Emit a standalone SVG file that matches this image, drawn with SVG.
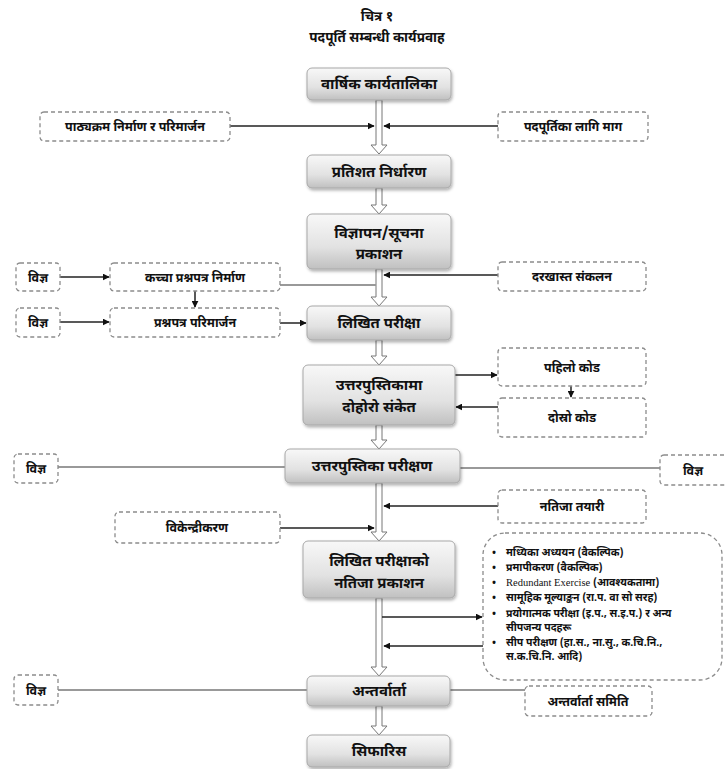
<svg xmlns="http://www.w3.org/2000/svg" width="726" height="769" viewBox="0 0 726 769">
<defs>
<linearGradient id="g" x1="0" y1="0" x2="0" y2="1">
<stop offset="0" stop-color="#f8f8f8"/>
<stop offset="0.6" stop-color="#e2e2e2"/>
<stop offset="1" stop-color="#c0c0c0"/>
</linearGradient>
<filter id="sh" x="-10%" y="-20%" width="125%" height="150%">
<feDropShadow dx="1" dy="2" stdDeviation="1.5" flood-color="#000" flood-opacity="0.3"/>
</filter>
<marker id="ah" viewBox="0 0 10 10" refX="9" refY="5" markerWidth="7" markerHeight="7" markerUnits="userSpaceOnUse" orient="auto">
<path d="M0,0 L10,5 L0,10 z" fill="#111"/>
</marker>
<style>
text{font-family:"Noto Sans Devanagari","Lohit Devanagari","Noto Sans","DejaVu Sans",sans-serif;font-weight:bold;fill:#111;text-anchor:middle}
.main rect{fill:url(#g);stroke:#a8a8a8;stroke-width:1;filter:url(#sh)}
.main text{font-size:15px}
.dash rect{fill:#fff;stroke:#8c8c8c;stroke-width:1.3;stroke-dasharray:4 3}
.dash text{font-size:12.5px}
.hollow{fill:#fff;stroke:#777;stroke-width:1}
.arr{stroke:#222;stroke-width:1.5;fill:none;marker-end:url(#ah)}
.ln{stroke:#999;stroke-width:2;fill:none}
.list text{font-size:10.5px;text-anchor:start;font-weight:bold}
.title{font-size:13.5px}
</style>
</defs>

<g id="title">
<text class="title" x="377" y="21">चित्र १</text>
<text class="title" x="377" y="42">पदपूर्ति सम्बन्धी कार्यप्रवाह</text>
</g>

<g id="connectors">
<path class="hollow" d="M376,100 V145 H371 L379,154 L387,145 H382 V100 Z"/>
<path class="hollow" d="M376,188 V205 H371 L379,214 L387,205 H382 V188 Z"/>
<path class="hollow" d="M376,269 V297 H371 L379,306 L387,297 H382 V269 Z"/>
<path class="hollow" d="M376,340 V356 H371 L379,365 L387,356 H382 V340 Z"/>
<path class="hollow" d="M376,425 V440 H371 L379,449 L387,440 H382 V425 Z"/>
<path class="hollow" d="M376,483 V532 H371 L379,541 L387,532 H382 V483 Z"/>
<path class="hollow" d="M376,598 V667 H371 L379,676 L387,667 H382 V598 Z"/>
<path class="hollow" d="M376,706 V726 H371 L379,735 L387,726 H382 V706 Z"/>
<line class="arr" x1="230" y1="126" x2="374" y2="126"/>
<line class="arr" x1="498" y1="126" x2="384" y2="126"/>
<line class="arr" x1="60" y1="277" x2="109" y2="277"/>
<line class="ln" x1="280" y1="285" x2="376" y2="285"/>
<line class="arr" x1="498" y1="275" x2="384" y2="275"/>
<line class="arr" x1="195" y1="291" x2="195" y2="307"/>
<line class="arr" x1="60" y1="322" x2="109" y2="322"/>
<line class="arr" x1="280" y1="323" x2="306" y2="323"/>
<line class="arr" x1="455" y1="375" x2="497" y2="375"/>
<line class="arr" x1="571" y1="386" x2="571" y2="397"/>
<line class="arr" x1="498" y1="407" x2="456" y2="407"/>
<line class="ln" x1="58" y1="467" x2="285" y2="467"/>
<line class="ln" x1="460" y1="468" x2="660" y2="468"/>
<line class="arr" x1="498" y1="506" x2="384" y2="506"/>
<line class="arr" x1="280" y1="528" x2="374" y2="528"/>
<line class="arr" x1="382" y1="617" x2="482" y2="617"/>
<line class="arr" x1="483" y1="646" x2="384" y2="646"/>
<line class="ln" x1="58" y1="690" x2="307" y2="690"/>
<line class="ln" x1="450" y1="690" x2="525" y2="690"/>
</g>

<g id="n1" class="main"><rect x="307" y="68" width="144" height="32" rx="5"/><text x="379" y="89">वार्षिक कार्यतालिका</text></g>
<g id="n2" class="main"><rect x="307" y="155" width="144" height="33" rx="5"/><text x="379" y="177">प्रतिशत निर्धारण</text></g>
<g id="n3" class="main"><rect x="307" y="214" width="144" height="55" rx="5"/><text x="379" y="238">विज्ञापन/सूचना</text><text x="379" y="259">प्रकाशन</text></g>
<g id="n4" class="main"><rect x="307" y="306" width="144" height="34" rx="5"/><text x="379" y="328">लिखित परीक्षा</text></g>
<g id="n5" class="main"><rect x="303" y="365" width="152" height="60" rx="5"/><text x="379" y="390">उत्तरपुस्तिकामा</text><text x="379" y="412">दोहोरो संकेत</text></g>
<g id="n6" class="main"><rect x="285" y="449" width="175" height="34" rx="5"/><text x="372" y="471">उत्तरपुस्तिका परीक्षण</text></g>
<g id="n7" class="main"><rect x="303" y="541" width="152" height="57" rx="5"/><text x="379" y="566">लिखित परीक्षाको</text><text x="379" y="588">नतिजा प्रकाशन</text></g>
<g id="n8" class="main"><rect x="307" y="676" width="143" height="30" rx="5"/><text x="379" y="696">अन्तर्वार्ता</text></g>
<g id="n9" class="main"><rect x="307" y="735" width="143" height="32" rx="5"/><text x="379" y="756">सिफारिस</text></g>

<g id="d1" class="dash"><rect x="40" y="112" width="190" height="29" rx="4"/><text x="135" y="131">पाठ्यक्रम निर्माण र परिमार्जन</text></g>
<g id="d2" class="dash"><rect x="498" y="112" width="150" height="29" rx="4"/><text x="573" y="131">पदपूर्तिका लागि माग</text></g>
<g id="d3" class="dash"><rect x="16" y="263" width="44" height="28" rx="4"/><text x="38" y="282">विज्ञ</text></g>
<g id="d4" class="dash"><rect x="110" y="263" width="170" height="28" rx="4"/><text x="195" y="282">कच्चा प्रश्नपत्र निर्माण</text></g>
<g id="d5" class="dash"><rect x="498" y="262" width="148" height="29" rx="4"/><text x="572" y="281">दरखास्त संकलन</text></g>
<g id="d6" class="dash"><rect x="16" y="308" width="44" height="29" rx="4"/><text x="38" y="327">विज्ञ</text></g>
<g id="d7" class="dash"><rect x="110" y="308" width="170" height="29" rx="4"/><text x="195" y="327">प्रश्नपत्र परिमार्जन</text></g>
<g id="d8" class="dash"><rect x="498" y="348" width="148" height="38" rx="4"/><text x="572" y="372">पहिलो कोड</text></g>
<g id="d9" class="dash"><rect x="498" y="398" width="148" height="39" rx="4"/><text x="572" y="422">दोस्रो कोड</text></g>
<g id="d10" class="dash"><rect x="14" y="454" width="44" height="29" rx="4"/><text x="36" y="473">विज्ञ</text></g>
<g id="d11" class="dash"><rect x="660" y="455" width="70" height="30" rx="4"/><text x="693" y="475">विज्ञ</text></g>
<g id="d12" class="dash"><rect x="498" y="490" width="148" height="33" rx="4"/><text x="572" y="511">नतिजा तयारी</text></g>
<g id="d13" class="dash"><rect x="115" y="512" width="165" height="31" rx="4"/><text x="197" y="532">विकेन्द्रीकरण</text></g>
<g id="d14" class="dash list"><rect x="483" y="533" width="239" height="147" rx="22"/>
<text x="492" y="556">•</text><text x="506" y="556">मध्यिका अध्ययन (वैकल्पिक)</text>
<text x="492" y="571">•</text><text x="506" y="571">प्रमापीकरण (वैकल्पिक)</text>
<text x="492" y="586">•</text><text x="506" y="586" style="font-family:'Liberation Serif',serif;font-weight:normal">Redundant Exercise <tspan style="font-family:'Noto Sans Devanagari','Noto Sans',sans-serif;font-weight:bold">(आवश्यकतामा)</tspan></text>
<text x="492" y="601">•</text><text x="506" y="601">सामूहिक मूल्याङ्कन (रा.प. वा सो सरह)</text>
<text x="492" y="617">•</text><text x="506" y="617">प्रयोगात्मक परीक्षा (इ.प., स.इ.प.) र अन्य</text>
<text x="506" y="631">सीपजन्य पदहरू</text>
<text x="492" y="646">•</text><text x="506" y="646">सीप परीक्षण (हा.स., ना.सु., क.चि.नि.,</text>
<text x="506" y="660">स.क.चि.नि. आदि)</text>
</g>
<g id="d15" class="dash"><rect x="14" y="675" width="44" height="30" rx="4"/><text x="36" y="695">विज्ञ</text></g>
<g id="d16" class="dash"><rect x="525" y="686" width="127" height="30" rx="4"/><text x="588" y="706">अन्तर्वार्ता समिति</text></g>
</svg>
